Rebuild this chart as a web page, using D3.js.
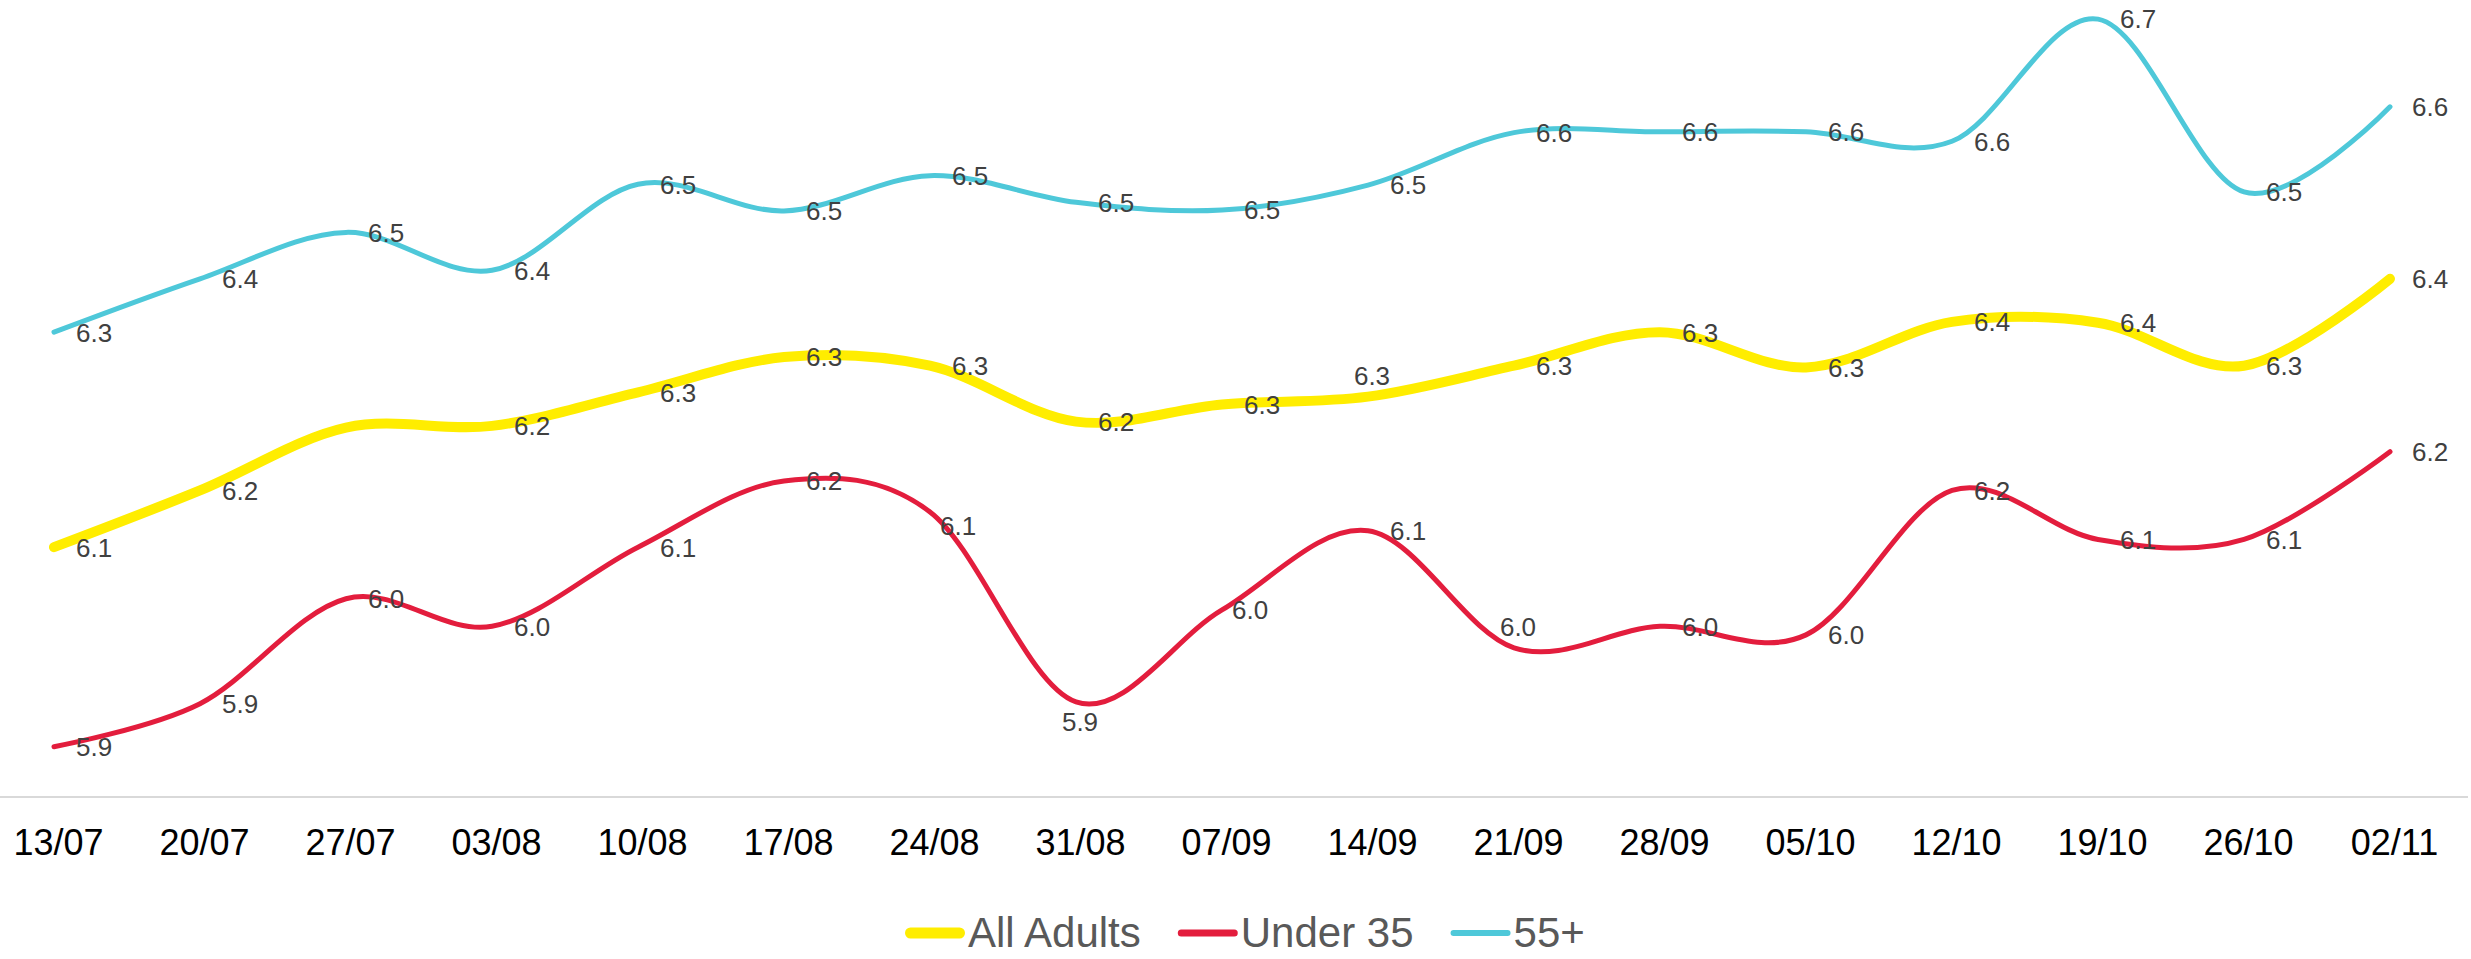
<!DOCTYPE html>
<html>
<head>
<meta charset="utf-8">
<script src="https://cdn.jsdelivr.net/npm/d3@7"></script>
<style>
  body { margin: 0; background: #fff; }
  svg { display: block; font-family: "Liberation Sans", Arial, sans-serif; }
</style>
</head>
<body>
<svg id="chart" width="2471" height="959"></svg>
<script>
const weeks = ['13/07', '20/07', '27/07', '03/08', '10/08', '17/08', '24/08', '31/08', '07/09',
    '14/09', '21/09', '28/09', '05/10', '12/10', '19/10', '26/10', '02/11'];

const allAdults = [6.094, 6.16, 6.233, 6.235, 6.274, 6.315, 6.305, 6.24, 6.26,
    6.269, 6.305, 6.344, 6.303, 6.356, 6.355, 6.305, 6.406];
const under35 = [5.862, 5.912, 6.034, 6.002, 6.094, 6.171, 6.135, 5.914, 6.021,
    6.113, 5.977, 6.002, 5.992, 6.16, 6.103, 6.103, 6.205];
const over55 = [6.344, 6.406, 6.46, 6.416, 6.516, 6.485, 6.526, 6.495, 6.486,
    6.515, 6.576, 6.577, 6.577, 6.566, 6.708, 6.507, 6.606];

// the 27/07 label of All Adults is not shown in the original
const hiddenLabels = { 'All Adults': ['27/07'] };
// labels that sit somewhere other than to the right of their point
const labelPlacement = {
    'All Adults': { '14/09': 'above' },
    'Under 35': { '24/08': 'nudge', '31/08': 'below', '07/09': 'nudge', '21/09': 'above' }
};

const series = [
    { name: 'All Adults', values: allAdults, color: '#FFED00', width: 10, legendWidth: 11 },
    { name: 'Under 35', values: under35, color: '#E31D3D', width: 5, legendWidth: 7 },
    { name: '55+', values: over55, color: '#4EC8D9', width: 5, legendWidth: 6 }
];

const svg = d3.select('#chart');
const W = 2471;
const axisY = 797;

const x = d3.scalePoint()
    .domain(weeks)
    .range([54, 2390]);

const y = d3.scaleLinear()
    .domain([5.8, 6.8])
    .range([800, -60]);

// baseline
svg.append('line')
    .attr('x1', 0)
    .attr('x2', W - 3)
    .attr('y1', axisY)
    .attr('y2', axisY)
    .attr('stroke', '#D9D9D9')
    .attr('stroke-width', 2);

const xAxis = svg.append('g')
    .attr('transform', `translate(4,${axisY})`)
    .call(d3.axisBottom(x).tickSize(0).tickPadding(0));
xAxis.select('.domain').remove();
xAxis.selectAll('text')
    .attr('y', 58)
    .attr('dy', 0)
    .attr('fill', '#000')
    .style('font-size', '36px')
    .style('font-family', '"Liberation Sans", Arial, sans-serif');

const line = d3.line()
    .x((d, i) => x(weeks[i]))
    .y(d => y(d))
    .curve(d3.curveCatmullRom.alpha(0));

const fmt = d3.format('.1f');

series.forEach(s => {
    svg.append('path')
        .datum(s.values)
        .attr('fill', 'none')
        .attr('stroke', s.color)
        .attr('stroke-width', s.width)
        .attr('stroke-linecap', 'round')
        .attr('stroke-linejoin', 'round')
        .attr('d', line);
});

function labelX(d) {
    if (d.pos === 'above' || d.pos === 'below') return x(d.week) + 4;
    if (d.pos === 'nudge') return x(d.week) + 10;
    return x(d.week) + 22;
}
function labelY(d) {
    if (d.pos === 'above') return y(d.v) - 21;
    if (d.pos === 'below') return y(d.v) + 20;
    if (d.pos === 'nudge') return y(d.v) + (d.week === '24/08' ? 14 : 0);
    return y(d.v);
}

series.forEach(s => {
    const hidden = hiddenLabels[s.name] || [];
    const placement = labelPlacement[s.name] || {};
    svg.append('g')
        .selectAll('text')
        .data(s.values
            .map((v, i) => ({ v, week: weeks[i], pos: placement[weeks[i]] || 'right' }))
            .filter(d => !hidden.includes(d.week)))
        .join('text')
        .attr('x', labelX)
        .attr('y', labelY)
        .attr('dy', '0.36em')
        .attr('text-anchor', d => (d.pos === 'above' || d.pos === 'below') ? 'middle' : 'start')
        .attr('fill', '#404040')
        .style('font-size', '26px')
        .text(d => fmt(d.v));
});

// legend
const legend = svg.append('g');
let lx = 0;
series.forEach(s => {
    const item = legend.append('g').attr('transform', `translate(${lx},0)`);
    item.append('line')
        .attr('x1', s.legendWidth / 2)
        .attr('x2', 60 - s.legendWidth / 2)
        .attr('y1', -14)
        .attr('y2', -14)
        .attr('stroke', s.color)
        .attr('stroke-width', s.legendWidth)
        .attr('stroke-linecap', 'round');
    const t = item.append('text')
        .attr('x', 63)
        .attr('y', 0)
        .attr('fill', '#595959')
        .style('font-size', '42px')
        .text(s.name);
    lx += 63 + t.node().getComputedTextLength() + 37;
});
const legendWidth = lx - 37;
legend.attr('transform', `translate(${Math.round(1245 - legendWidth / 2)},947)`);
</script>
</body>
</html>
